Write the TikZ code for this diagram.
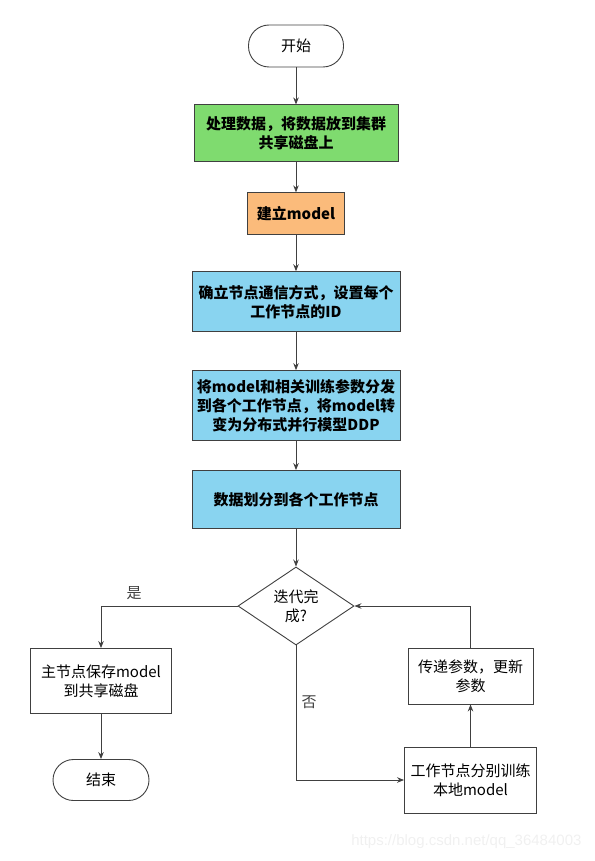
\documentclass[tikz,border=0pt]{standalone}
\usepackage{fontspec}
\setmainfont{Noto Sans CJK SC}
\newfontfamily\wmfont{Liberation Sans}
\usetikzlibrary{shapes.geometric, arrows.meta, positioning}

\definecolor{linegray}{HTML}{404040}
\definecolor{prepgreen}{HTML}{7FDB6F}
\definecolor{modelorange}{HTML}{FBBB7B}
\definecolor{nodeblue}{HTML}{89D4F0}

\begin{document}
\begin{tikzpicture}[
    x=1pt, y=-1pt,
    box/.style={rectangle, draw=linegray, line width=0.9pt, align=center, inner sep=0pt, font=\fontsize{15}{19}\selectfont\bfseries},
    plainbox/.style={rectangle, draw=linegray, line width=0.9pt, align=center, inner sep=0pt, font=\fontsize{15}{19}\selectfont},
    term/.style={rectangle, rounded corners=20.5pt, draw=linegray, line width=0.9pt, inner sep=0pt, font=\fontsize{15}{19}\selectfont},
    decision/.style={diamond, draw=linegray, line width=0.9pt, align=center, inner sep=0pt, minimum width=116pt, minimum height=59pt, font=\fontsize{15}{19}\selectfont},
    line/.style={draw=linegray, line width=0.9pt, -{Stealth[length=7pt, width=5.5pt]}},
    lbl/.style={font=\fontsize{15}{19}\selectfont, text=linegray}
]
    \useasboundingbox (0,0) rectangle (594,861);

    % Start
    \node [term, minimum width=95pt, minimum height=42pt] (start) at (296,46) {开始};

    % Preparation
    \node [box, below=37pt of start, minimum width=204pt, minimum height=57pt, fill=prepgreen] (data) {处理数据，将数据放到集群\\共享磁盘上};
    \node [box, below=30pt of data, minimum width=97pt, minimum height=42pt, fill=modelorange] (model) {建立model};

    % Distributed setup
    \node [box, below=36pt of model, minimum width=208pt, minimum height=60pt, fill=nodeblue] (comm) {确立节点通信方式，设置每个\\工作节点的ID};
    \node [box, below=38pt of comm, minimum width=208pt, minimum height=70pt, fill=nodeblue] (ddp) {将model和相关训练参数分发\\到各个工作节点，将model转\\变为分布式并行模型DDP};
    \node [box, below=29pt of ddp, minimum width=208pt, minimum height=58pt, fill=nodeblue] (split) {数据划分到各个工作节点};

    % Training loop
    \node [decision] (done) at (296,606) {迭代完\\成?};
    \node [plainbox, minimum width=125pt, minimum height=56pt] (update) at (470.5,676) {传递参数，更新\\参数};
    \node [plainbox, minimum width=132pt, minimum height=66pt] (train) at (470.5,780) {工作节点分别训练\\本地model};

    % Finish
    \node [plainbox, minimum width=141pt, minimum height=65pt] (save) at (101,681) {主节点保存model\\到共享磁盘};
    \node [term, minimum width=96pt, minimum height=41pt] (finish) at (101,780) {结束};

    % Connect nodes
    \path [line] (start) -- (data);
    \path [line] (data) -- (model);
    \path [line] (model) -- (comm);
    \path [line] (comm) -- (ddp);
    \path [line] (ddp) -- (split);
    \path [line] (split) -- (done);

    % Branches
    \path [line] (done.west) -| (save.north);
    \path [line] (save) -- (finish);
    \path [line] (done.south) |- (train.west);
    \path [line] (train) -- (update);
    \path [line] (update.north) |- (done.east);

    % Branch labels
    \node [lbl] (yes) at (134,593) {是};
    \node [lbl] (no) at (309,702) {否};

    % Watermark
    \node [font=\wmfont\fontsize{15}{18}\selectfont, text=black!6, anchor=east] (wm) at (585,842) {https://blog.csdn.net/qq\_36484003};
\end{tikzpicture}
\end{document}
